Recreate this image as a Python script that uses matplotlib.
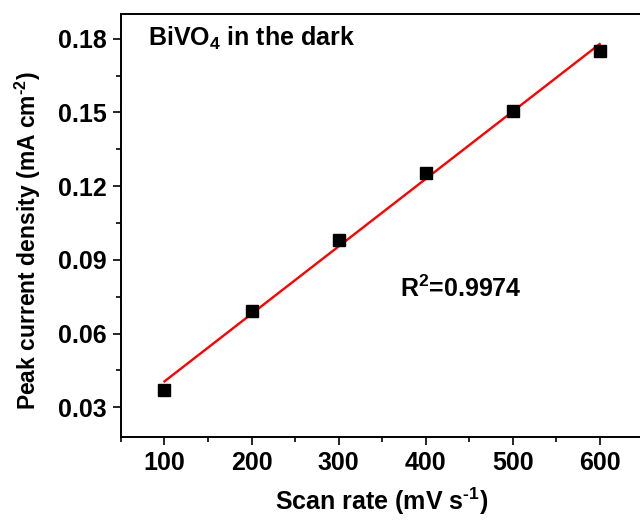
import numpy as np
import matplotlib.pyplot as plt
from matplotlib.ticker import MultipleLocator

plt.rcParams['font.family'] = ['Liberation Sans', 'DejaVu Sans']
plt.rcParams['font.weight'] = 'bold'
plt.rcParams['mathtext.fontset'] = 'custom'
plt.rcParams['mathtext.rm'] = 'Liberation Sans:bold'
plt.rcParams['mathtext.bf'] = 'Liberation Sans:bold'
plt.rcParams['mathtext.default'] = 'bf'
plt.rcParams['axes.unicode_minus'] = False

# scan rate (mV/s) vs peak current density (mA/cm2)
scan_rate = [100, 200, 300, 400, 500, 600]
peak_current = [0.0372, 0.069, 0.098, 0.1255, 0.1505, 0.175]
x_ticks = [100, 200, 300, 400, 500, 600]
y_ticks = [0.03, 0.06, 0.09, 0.12, 0.15, 0.18]
y_ticklabels = ['0.03', '0.06', '0.09', '0.12', '0.15', '0.18']

fig = plt.figure(figsize=(6.4, 5.25), dpi=100)
ax = fig.add_axes([0.189, 0.168, 0.816, 0.805])

# linear fit
fit = np.poly1d(np.polyfit(scan_rate, peak_current, 1))
xs = np.array([scan_rate[0], scan_rate[-1]])
ax.plot(xs, fit(xs), color='red', lw=1.7, zorder=2)
ax.plot(scan_rate, peak_current, 's', color='black', ms=9, zorder=3)

ax.set_xlim(50, 650)
ax.set_ylim(0.018, 0.19)
ax.xaxis.set_minor_locator(MultipleLocator(50))
ax.yaxis.set_minor_locator(MultipleLocator(0.015))
ax.set_xticks(x_ticks)
ax.set_yticks(y_ticks)
ax.set_yticklabels(y_ticklabels)
ax.tick_params(which='major', direction='out', length=6, width=1.2, labelsize=18, pad=4)
ax.tick_params(which='minor', direction='out', length=3.5, width=1.2)
for s in ax.spines.values():
    s.set_linewidth(1.4)

ax.set_xlabel(r'Scan rate (mV s$^{\text{-1}}$)', fontsize=18, fontweight='bold', labelpad=8)
ax.set_ylabel(r'Peak current density (mA cm$^{\text{-2}}$)', fontsize=16.5, fontweight='bold')
ax.yaxis.set_label_coords(-0.15, 0.465)

ax.text(0.052, 0.925, 'BiVO$_4$ in the dark', transform=ax.transAxes, fontsize=18, fontweight='bold')
ax.text(0.535, 0.33, 'R$^2$=0.9974', transform=ax.transAxes, fontsize=18, fontweight='bold')

fig.savefig('out.png', dpi=100)
